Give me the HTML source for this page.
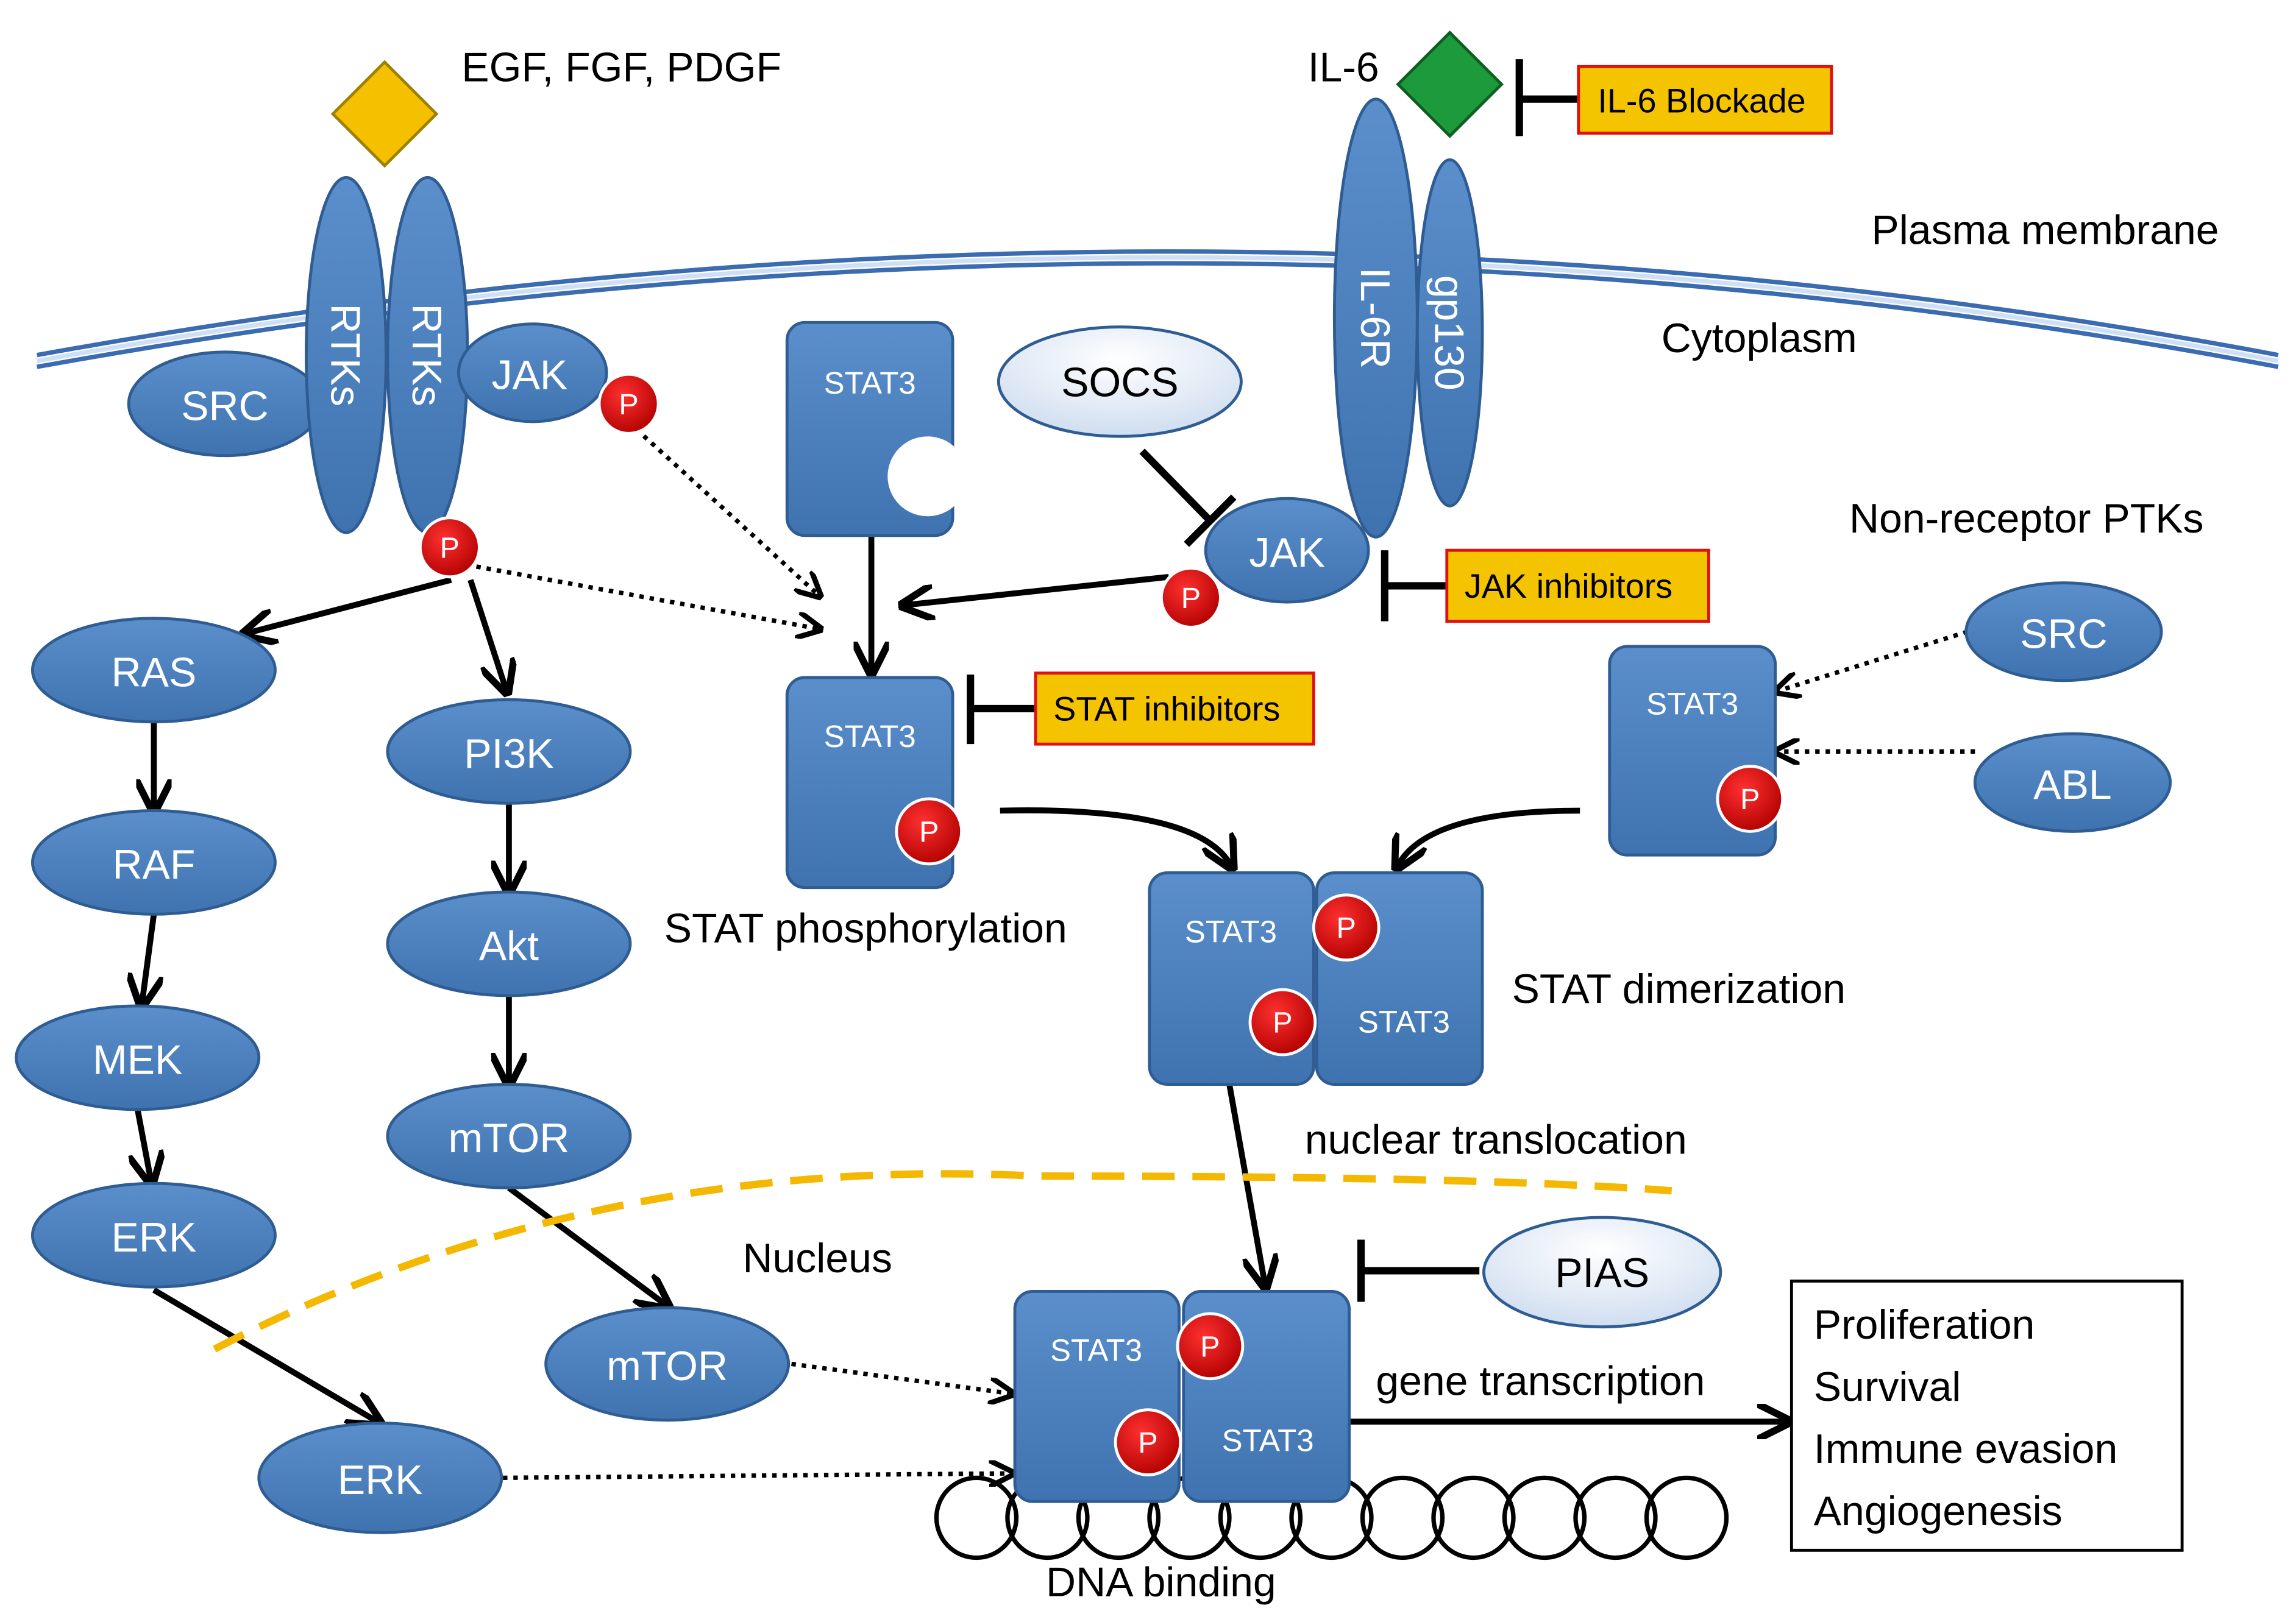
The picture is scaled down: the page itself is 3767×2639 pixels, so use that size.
<!DOCTYPE html>
<html><head><meta charset="utf-8"><style>
html,body{margin:0;padding:0;background:#fff;}
svg{display:block;}
text{font-family:"Liberation Sans",sans-serif;}
</style></head><body>
<svg width="3767" height="2639" viewBox="0 0 1552 1087" preserveAspectRatio="none" xmlns="http://www.w3.org/2000/svg">
<defs>
<linearGradient id="bl" x1="0" y1="0" x2="0" y2="1"><stop offset="0" stop-color="#5b8fcc"/><stop offset="1" stop-color="#3f73b0"/></linearGradient>
<radialGradient id="pr" cx="0.4" cy="0.35" r="0.7"><stop offset="0" stop-color="#ff3030"/><stop offset="1" stop-color="#b00000"/></radialGradient>
<radialGradient id="lt" cx="0.5" cy="0.3" r="0.8"><stop offset="0" stop-color="#ffffff"/><stop offset="1" stop-color="#c9d9ee"/></radialGradient>
<marker id="ar" viewBox="0 0 10 10" refX="8" refY="5" markerWidth="6" markerHeight="6" orient="auto"><path d="M0,0 L10,5 L0,10" fill="none" stroke="#000" stroke-width="2"/></marker>
</defs>

<!-- membrane -->
<path d="M25,240 Q800,100 1540,240" fill="none" stroke="#3b6bb0" stroke-width="3"/>
<path d="M25,248 Q800,108 1540,248" fill="none" stroke="#3b6bb0" stroke-width="3"/>
<path d="M25,244 Q800,104 1540,244" fill="none" stroke="#cfe0f5" stroke-width="3"/>

<text x="312" y="55" font-size="28">EGF, FGF, PDGF</text>
<text x="884" y="55" font-size="28">IL-6</text>
<text x="1265" y="165" font-size="28">Plasma membrane</text>
<text x="1123" y="238" font-size="28">Cytoplasm</text>
<text x="1250" y="360" font-size="28">Non-receptor PTKs</text>
<text x="449" y="637" font-size="28">STAT phosphorylation</text>
<text x="1022" y="678" font-size="28">STAT dimerization</text>
<text x="882" y="780" font-size="28">nuclear translocation</text>
<text x="502" y="860" font-size="28">Nucleus</text>
<text x="930" y="943" font-size="28">gene transcription</text>
<text x="707" y="1079" font-size="28">DNA binding</text>

<!-- diamonds -->
<polygon points="260,42 295,77 260,112 225,77" fill="#f5c000" stroke="#a08000" stroke-width="2"/>
<polygon points="980,22 1015,57 980,92 945,57" fill="#1c9a3c" stroke="#0d5e22" stroke-width="2"/>

<!-- inhibitor boxes -->
<g stroke="#000" stroke-width="5" fill="none">
<line x1="1027" y1="40" x2="1027" y2="92"/><line x1="1027" y1="67" x2="1067" y2="67"/>
<line x1="936" y1="372" x2="936" y2="420"/><line x1="936" y1="396" x2="978" y2="396"/>
<line x1="656" y1="456" x2="656" y2="503"/><line x1="656" y1="479" x2="700" y2="479"/>
<line x1="920" y1="838" x2="920" y2="880"/><line x1="920" y1="859" x2="1000" y2="859"/>
<line x1="772" y1="305" x2="818" y2="352"/><line x1="802" y1="368" x2="834" y2="336"/>
</g>
<g fill="#f5c400" stroke="#e01010" stroke-width="2">
<rect x="1067" y="45" width="171" height="45"/>
<rect x="978" y="372" width="177" height="48"/>
<rect x="700" y="455" width="188" height="48"/>
</g>
<text x="1080" y="76" font-size="23">IL-6 Blockade</text>
<text x="990" y="404" font-size="23">JAK inhibitors</text>
<text x="712" y="487" font-size="23">STAT inhibitors</text>

<!-- connectors -->
<g stroke="#000" stroke-width="4" fill="none" marker-end="url(#ar)">
<line x1="790" y1="390" x2="612" y2="409"/>
<line x1="589" y1="362" x2="589" y2="453"/>
<line x1="305" y1="392" x2="167" y2="428"/>
<line x1="318" y1="392" x2="342" y2="466"/>
<line x1="104" y1="488" x2="104" y2="546"/>
<line x1="104" y1="618" x2="96" y2="678"/>
<line x1="93" y1="750" x2="102" y2="798"/>
<line x1="344" y1="543" x2="344" y2="601"/>
<line x1="344" y1="673" x2="344" y2="731"/>
<line x1="344" y1="803" x2="450" y2="882"/>
<line x1="104" y1="872" x2="255" y2="961"/>
<path d="M676,548 Q810,545 832,585"/>
<path d="M1068,548 Q965,548 945,585"/>
<line x1="831" y1="733" x2="855" y2="868"/>
<line x1="912" y1="961" x2="1207" y2="961"/>
</g>
<g stroke="#000" stroke-width="3" stroke-dasharray="3,4" fill="none" marker-end="url(#ar)">
<line x1="430" y1="290" x2="553" y2="402"/>
<line x1="322" y1="383" x2="553" y2="425"/>
<line x1="535" y1="922" x2="683" y2="942"/>
<line x1="340" y1="999" x2="683" y2="996"/>
<line x1="1330" y1="427" x2="1202" y2="467"/>
<line x1="1335" y1="508" x2="1202" y2="508"/>
</g>

<!-- nuclear boundary -->
<path d="M145,912 Q400,780 700,795 Q1000,795 1130,805" fill="none" stroke="#f5b800" stroke-width="5" stroke-dasharray="22,12"/>

<!-- DNA loops -->
<g fill="none" stroke="#000" stroke-width="3">
<circle cx="660" cy="1026" r="27"/><circle cx="708" cy="1026" r="27"/><circle cx="756" cy="1026" r="27"/><circle cx="804" cy="1026" r="27"/><circle cx="852" cy="1026" r="27"/><circle cx="900" cy="1026" r="27"/><circle cx="948" cy="1026" r="27"/><circle cx="996" cy="1026" r="27"/><circle cx="1044" cy="1026" r="27"/><circle cx="1092" cy="1026" r="27"/><circle cx="1140" cy="1026" r="27"/>
</g>

<!-- blue shapes -->
<g fill="url(#bl)" stroke="#2f5c92" stroke-width="2">
<ellipse cx="152" cy="273" rx="65" ry="35"/>
<ellipse cx="234" cy="240" rx="27" ry="120"/>
<ellipse cx="289" cy="240" rx="27" ry="120"/>
<ellipse cx="360" cy="252" rx="50" ry="33"/>
<ellipse cx="980" cy="225" rx="22" ry="117"/>
<ellipse cx="930" cy="215" rx="28" ry="148"/>
<ellipse cx="870" cy="372" rx="55" ry="35"/>
<ellipse cx="1395" cy="427" rx="66" ry="33"/>
<ellipse cx="1401" cy="529" rx="66" ry="33"/>
<ellipse cx="104" cy="453" rx="82" ry="35"/>
<ellipse cx="104" cy="583" rx="82" ry="35"/>
<ellipse cx="93" cy="715" rx="82" ry="35"/>
<ellipse cx="104" cy="835" rx="82" ry="35"/>
<ellipse cx="344" cy="508" rx="82" ry="35"/>
<ellipse cx="344" cy="638" rx="82" ry="35"/>
<ellipse cx="344" cy="768" rx="82" ry="35"/>
<ellipse cx="451" cy="922" rx="82" ry="38"/>
<ellipse cx="257" cy="999" rx="82" ry="37"/>
<rect x="532" y="218" width="112" height="144" rx="12"/>
<rect x="532" y="458" width="112" height="142" rx="12"/>
<rect x="1088" y="437" width="112" height="141" rx="12"/>
<rect x="890" y="590" width="112" height="143" rx="12"/>
<rect x="777" y="590" width="111" height="143" rx="12"/>
<rect x="800" y="873" width="112" height="142" rx="12"/>
<rect x="686" y="873" width="111" height="142" rx="12"/>
</g>
<circle cx="627" cy="322" r="27" fill="#fff"/>

<g fill="url(#lt)" stroke="#2f5c92" stroke-width="2">
<ellipse cx="757" cy="258" rx="82" ry="37"/>
<ellipse cx="1083" cy="860" rx="80" ry="37"/>
</g>

<g fill="#fff" font-size="28" text-anchor="middle">
<text x="152" y="284">SRC</text>
<text x="358" y="263">JAK</text>
<text x="870" y="383">JAK</text>
<text x="1395" y="438">SRC</text>
<text x="1401" y="540">ABL</text>
<text x="104" y="464">RAS</text>
<text x="104" y="594">RAF</text>
<text x="93" y="726">MEK</text>
<text x="104" y="846">ERK</text>
<text x="344" y="519">PI3K</text>
<text x="344" y="649">Akt</text>
<text x="344" y="779">mTOR</text>
<text x="451" y="933">mTOR</text>
<text x="257" y="1010">ERK</text>
<text transform="translate(224,240) rotate(90)">RTKs</text>
<text transform="translate(279,240) rotate(90)">RTKs</text>
<text transform="translate(920,215) rotate(90)">IL-6R</text>
<text transform="translate(970,225) rotate(90)">gp130</text>
</g>
<g fill="#000" font-size="28" text-anchor="middle">
<text x="757" y="268">SOCS</text>
<text x="1083" y="870">PIAS</text>
</g>
<g fill="#fff" font-size="21" text-anchor="middle">
<text x="588" y="266">STAT3</text>
<text x="588" y="505">STAT3</text>
<text x="1144" y="483">STAT3</text>
<text x="832" y="637">STAT3</text>
<text x="949" y="698">STAT3</text>
<text x="741" y="920">STAT3</text>
<text x="857" y="981">STAT3</text>
</g>

<!-- P circles -->
<g stroke="#fff" stroke-width="2" fill="url(#pr)">
<circle cx="425" cy="273" r="20"/>
<circle cx="304" cy="370" r="20"/>
<circle cx="805" cy="404" r="20"/>
<circle cx="628" cy="562" r="22"/>
<circle cx="1183" cy="540" r="22"/>
<circle cx="910" cy="627" r="22"/>
<circle cx="867" cy="691" r="22"/>
<circle cx="818" cy="910" r="22"/>
<circle cx="776" cy="975" r="22"/>
</g>
<g fill="#fff" font-size="20" text-anchor="middle">
<text x="425" y="280">P</text><text x="304" y="377">P</text><text x="805" y="411">P</text>
<text x="628" y="569">P</text><text x="1183" y="547">P</text><text x="910" y="634">P</text>
<text x="867" y="698">P</text><text x="818" y="917">P</text><text x="776" y="982">P</text>
</g>

<!-- outcome box -->
<rect x="1211" y="866" width="264" height="182" fill="#fff" stroke="#000" stroke-width="2"/>
<g font-size="28">
<text x="1226" y="905">Proliferation</text>
<text x="1226" y="947">Survival</text>
<text x="1226" y="989">Immune evasion</text>
<text x="1226" y="1031">Angiogenesis</text>
</g>
</svg>
</body></html>
